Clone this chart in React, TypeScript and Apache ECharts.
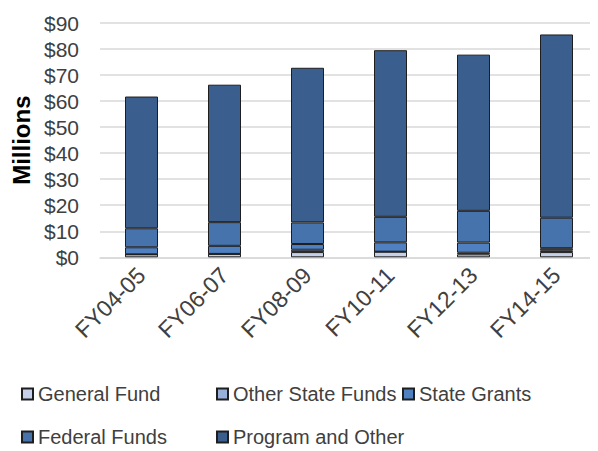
import React, { useEffect, useRef } from "react";
import * as echarts from "echarts";

const categories = ["FY04-05", "FY06-07", "FY08-09", "FY10-11", "FY12-13", "FY14-15"];
const generalFund = [1.15, 1.3, 2.0, 2.15, 1.15, 2.0];
const otherStateFunds = [0, 0, 0.9, 0, 0.6, 0.7];
const stateGrants = [2.7, 3.1, 2.2, 3.6, 3.9, 0.8];
const federalFunds = [7.3, 9.1, 8.3, 9.8, 12.2, 11.7];
const programAndOther = [50.6, 52.8, 59.4, 64.0, 60.0, 70.4];
const yTicks = [0, 10, 20, 30, 40, 50, 60, 70, 80, 90];

const seriesNames = ["General Fund", "Other State Funds", "State Grants", "Federal Funds", "Program and Other"];
const seriesData = [generalFund, otherStateFunds, stateGrants, federalFunds, programAndOther];
const colors = ["#C6D0E8", "#98AFDA", "#4E80C2", "#4673AC", "#3A5E8E"];

const FONT = "'Liberation Sans', Arial, sans-serif";
const TEXT = "#404040";

export default function App() {
  const ref = useRef<HTMLDivElement>(null);
  useEffect(() => {
    if (!ref.current) return;
    const chart = echarts.init(ref.current, null, { renderer: "svg" });
    const legendPos = [
      { left: 21, top: 384 },
      { left: 216, top: 384 },
      { left: 402, top: 384 },
      { left: 21, top: 427 },
      { left: 216, top: 427 },
    ];
    chart.setOption({
      animation: false,
      grid: { left: 100, right: 0, top: 23, bottom: 451 - 257.3 },
      legend: seriesNames.map((n, i) => ({
        data: [n],
        left: legendPos[i].left,
        top: legendPos[i].top,
        padding: 0,
        itemWidth: 11,
        itemHeight: 11,
        icon: "rect",
        itemGap: 0,
        textStyle: { fontFamily: FONT, fontSize: 20, color: TEXT },
        selectedMode: false,
      })),
      xAxis: {
        type: "category",
        data: categories,
        axisLine: { show: true, lineStyle: { color: "#D9D9D9", width: 1.5 } },
        axisTick: { show: false },
        axisLabel: {
          rotate: 45,
          margin: 14,
          fontFamily: FONT,
          fontSize: 23,
          color: TEXT,
          interval: 0,
        },
      },
      yAxis: {
        type: "value",
        min: 0,
        max: 90,
        interval: 10,
        name: "Millions",
        nameLocation: "middle",
        nameGap: 66,
        nameTextStyle: { fontFamily: FONT, fontSize: 24, fontWeight: "bold", color: "#000" },
        axisLabel: {
          fontFamily: FONT,
          fontSize: 21,
          color: TEXT,
          margin: 21,
          formatter: (v: number) => (yTicks.includes(v) ? "$" + v : ""),
        },
        splitLine: { lineStyle: { color: "#D9D9D9", width: 1.5 } },
        axisLine: { show: false },
        axisTick: { show: false },
      },
      series: seriesNames.map((n, i) => ({
        name: n,
        type: "bar",
        stack: "total",
        barWidth: 33,
        data: seriesData[i],
        itemStyle: { color: colors[i], borderColor: "#1E1E1E", borderWidth: 1 },
      })),
    });
    return () => chart.dispose();
  }, []);
  return <div ref={ref} style={{ width: 598, height: 451, marginLeft: -8, marginTop: -8 }} />;
}
